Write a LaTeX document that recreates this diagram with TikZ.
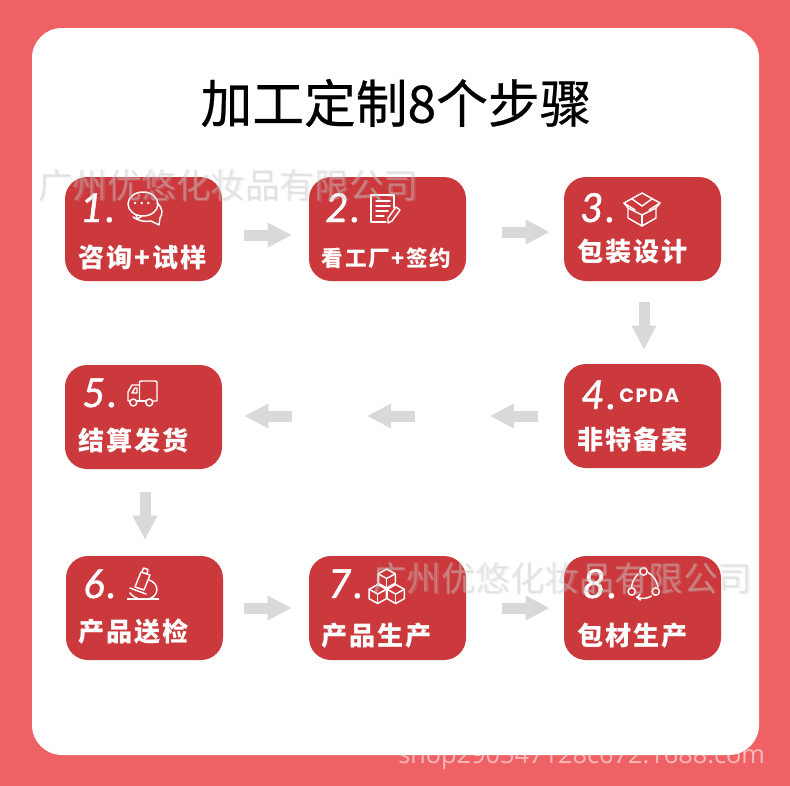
\documentclass[tikz,border=0pt]{standalone}
\usepackage{fontspec}
\setmainfont{Open Sans}
\newfontfamily\cjk{Noto Sans CJK SC}
\newfontfamily\cjktitle[FakeBold=0.5]{Noto Sans CJK SC}
\newfontfamily\cjkwide[LetterSpace=8]{Noto Sans CJK SC}
\newfontfamily\numfont[LetterSpace=6,FakeBold=1.1]{Lato}
\newfontfamily\logofont[LetterSpace=8]{Poppins}
\usetikzlibrary{arrows.meta}
\usetikzlibrary{calc}
\definecolor{pagered}{RGB}{238,98,101}
\definecolor{boxred}{RGB}{203,57,60}
\definecolor{arrowgray}{RGB}{217,217,217}
\definecolor{markgray}{RGB}{200,200,200}
\tikzset{
  stepbox/.style={fill=boxred,rounded corners=16.5pt,minimum width=117.75pt,minimum height=78pt,inner sep=0pt},
  flowarrow/.style={draw=arrowgray,line width=8.25pt,-{Triangle[length=18pt,width=17.25pt]}},
  steplabel/.style={anchor=west,inner sep=0pt,text=white,font=\cjkwide\bfseries\fontsize{19.6}{20}\selectfont},
  stepnum/.style={anchor=base west,inner sep=0pt,text=white,font=\numfont\itshape\fontsize{30}{30}\selectfont},
  icon/.style={draw=white,line width=1.1pt,line join=round,line cap=round},
  watermark/.style={inner sep=0pt,text=markgray,text opacity=0.42,font=\cjk\fontsize{25.9}{26}\selectfont}
}
\begin{document}
\begin{tikzpicture}[x=0.75pt,y=0.75pt,yscale=-1,xscale=1]
\useasboundingbox (0,0) rectangle (790,786);

%Background
\fill [pagered] (0,0) rectangle (790,786);
\node (shop) [inner sep=0pt,anchor=base west,text=white,text opacity=0.55,font=\fontsize{19}{20}\selectfont] at (398,763) {shop290547128c672.1688.com};
\fill [white,rounded corners=22.5pt] (32,28) rectangle (759,755);

% Text Node
\node (title) [inner sep=0pt,font=\cjktitle\fontsize{38.8}{39}\selectfont] at (396,103) {加工定制8个步骤};

%Boxes
\node (step1) [stepbox] at (143.5,229) {};
\node (step2) [stepbox] at (387.5,229) {};
\node (step3) [stepbox] at (642.5,229) {};
\node (step4) [stepbox] at (642.5,416) {};
\node (step5) [stepbox] at (143.5,417) {};
\node (step6) [stepbox] at (144.5,608) {};
\node (step7) [stepbox] at (387.5,608) {};
\node (step8) [stepbox] at (642.5,608) {};

%Free ends of the arrows in the second row
\coordinate (midA) at (490,416);
\coordinate (midB) at (415,416);
\coordinate (midC) at (367,416);
\coordinate (midD) at (292,416);

%Arrows
\draw [flowarrow] ($(step1.east)+(22,6)$) -- ($(step2.west)+(-17,6)$);
\draw [flowarrow] ($(step2.east)+(36,3)$) -- ($(step3.west)+(-14,3)$);
\draw [flowarrow] ($(step3.south)+(1.5,21)$) -- ($(step4.north)+(1.5,-14)$);
\draw [flowarrow] ($(step4.west)+(-26,0)$) -- (midA);
\draw [flowarrow] (midB) -- (midC);
\draw [flowarrow] (midD) -- ($(step5.east)+(22,-1)$);
\draw [flowarrow] ($(step5.south)+(1.5,23)$) -- ($(step6.north)+(0.5,-16)$);
\draw [flowarrow] ($(step6.east)+(21,0)$) -- ($(step7.west)+(-17,0)$);
\draw [flowarrow] ($(step7.east)+(36,0)$) -- ($(step8.west)+(-14,0)$);

% Text Node
\node (num1) [stepnum] at (80,222) {1.};
\node (num2) [stepnum] at (325,222) {2.};
\node (num3) [stepnum] at (580,222) {3.};
\node (num4) [stepnum] at (581,409) {4.};
\node (num5) [stepnum] at (82,407) {5.};
\node (num6) [stepnum] at (83,598) {6.};
\node (num7) [stepnum] at (328,598) {7.};
\node (num8) [stepnum] at (582,598) {8.};

% Text Node
\node (label1) [steplabel] at (78,257) {咨询+试样};
\node (label2) [steplabel,font=\cjkwide\bfseries\fontsize{16.2}{16}\selectfont] at (321.5,258) {看工厂+签约};
\node (label3) [steplabel] at (577,252) {包装设计};
\node (label4) [steplabel] at (577,439) {非特备案};
\node (label5) [steplabel] at (78,440) {结算发货};
\node (label6) [steplabel] at (78,632) {产品送检};
\node (label7) [steplabel] at (321,636) {产品生产};
\node (label8) [steplabel] at (577,636) {包材生产};
\node (logo) [anchor=west,inner sep=0pt,text=white,font=\logofont\bfseries\fontsize{14.5}{14}\selectfont] at (619,396) {CPDA};

%Icon chat
\draw [icon] (143,204) ellipse (15 and 12);
\draw [icon] (136,215) -- (137,219) -- (142,216);
\draw [icon] (157,203) .. controls (163,208) and (163,214) .. (160,218) -- (159,225) -- (151,221) .. controls (145,222) and (138,221) .. (133,217);
\foreach \dotx in {135,141.7,148.3}
  \fill [white] (\dotx,203) circle (1.4);

%Icon document
\draw [icon] (394,208) -- (394,195) -- (371,195) -- (371,222) -- (386,222);
\foreach \liney/\lineend in {201/390,206/390,211/388,216/384}
  \draw [icon] (376,\liney) -- (\lineend,\liney);
\draw [icon] (396,207) -- (400,210) -- (392,221) -- (388,223) -- (388,218) -- cycle;

%Icon parcel
\draw [icon] (642,193) -- (660,203) -- (656,208) -- (656,218) -- (642,226) -- (628,218) -- (628,208) -- (624,203) -- cycle;
\draw [icon] (628,208) -- (642,215) -- (656,208);
\draw [icon] (642,215) -- (642,226);
\draw [icon] (632,199) -- (642,206) -- (652,199);
\draw [icon] (624,203) -- (635,210);
\draw [icon] (660,203) -- (649,210);

%Icon truck
\draw [icon] (130,401) -- (128,401) -- (128,392) -- (132,385) -- (139.5,385) -- (139.5,401);
\draw [icon] (139.5,385) -- (139.5,383) .. controls (139.5,381.5) and (140,381) .. (141.5,381) -- (155,381) .. controls (156.5,381) and (157,381.5) .. (157,383) -- (157,401) -- (153,401);
\draw [icon] (137,401) -- (145.5,401);
\draw [icon] (132,393) -- (135,388) -- (137,388) -- (137,393) -- cycle;
\draw [icon] (133.3,402.5) circle (3.5);
\draw [icon] (149.3,402.5) circle (3.5);

%Icon microscope
\draw [icon] (127.5,599) -- (158.5,599);
\draw [icon] (141,572) -- (150,575) -- (144,590) -- (135,587) -- cycle;
\draw [icon] (142,572) -- (143.5,568) -- (148,569.5) -- (147,573.5);
\draw [icon] (149,580) .. controls (159,583) and (160,595) .. (149,599);
\draw [icon] (130,588) -- (146,594);
\draw [icon] (130,593) .. controls (133,597) and (138,599) .. (141,599);

%Icon cubes
\foreach \cubex/\cubey in {386.7/578.5,377.7/594,395.7/594}
{
  \draw [icon] (\cubex,\cubey-9.5) -- (\cubex+8.6,\cubey-4.7) -- (\cubex+8.6,\cubey+4.7) -- (\cubex,\cubey+9.5) -- (\cubex-8.6,\cubey+4.7) -- (\cubex-8.6,\cubey-4.7) -- cycle;
  \draw [icon] (\cubex-8.6,\cubey-4.7) -- (\cubex,\cubey) -- (\cubex+8.6,\cubey-4.7);
  \draw [icon] (\cubex,\cubey) -- (\cubex,\cubey+9.5);
}

%Icon cycle
\draw [icon] (643.5,571.5) circle (3.7);
\draw [icon] (631.7,591.5) circle (3.7);
\draw [icon] (655.7,591.5) circle (3.7);
\draw [icon] (648,572.5) .. controls (653,575) and (657,581) .. (658,587);
\draw [icon] (638,574) .. controls (634,578) and (632,583) .. (631.5,587);
\draw [icon] (651.5,596) .. controls (647,599) and (641,599) .. (636.5,597);
\draw [icon] (640,594.5) -- (637,597.5) -- (640.5,600);

%Watermarks
\node (shadowA) [watermark,anchor=west,text opacity=0.2] at (39.5,187) {广州优悠化妆品有限公司};
\node (markA) [watermark,anchor=west] at (38,186) {广州优悠化妆品有限公司};
\node (shadowB) [watermark,anchor=west,text opacity=0.2] at (373.5,580) {广州优悠化妆品有限公司};
\node (markB) [watermark,anchor=west] at (372,579) {广州优悠化妆品有限公司};

\end{tikzpicture}
\end{document}
